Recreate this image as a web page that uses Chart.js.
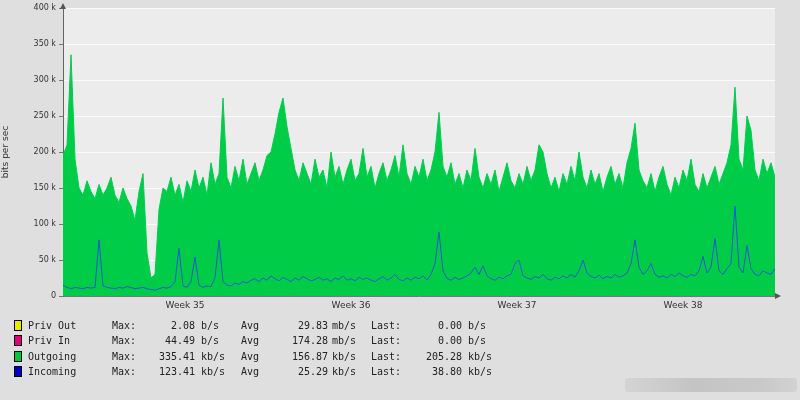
<!DOCTYPE html>
<html>
<head>
<meta charset="utf-8">
<script src="https://cdn.jsdelivr.net/npm/chart.js@4.4.0/dist/chart.umd.min.js"></script>
<style>
body { margin: 0; background: #dfdfdf; }
#caja { position: relative; width: 800px; height: 400px; background: #dfdfdf; }
#canvas_grafica { position: absolute; left: 0; top: 0; }
.fila { position: absolute; left: 0; height: 12px; font: 10px "DejaVu Sans Mono", monospace; color: #222; white-space: pre; }
.fila span { position: absolute; top: 0; }
.muestra { position: absolute; left: 14px; top: 0; width: 6px; height: 9px; border: 1px solid #000; }
.der { text-align: right; }
#marca { position: absolute; left: 625px; top: 378px; width: 172px; height: 14px;
  background: linear-gradient(90deg, #d4d4d4, #c4c4c4 40%, #c9c9c9 80%, #d2d2d2); border-radius: 3px; }
</style>
</head>
<body>
<div id="caja">
  <canvas id="canvas_grafica" width="800" height="400"></canvas>
  <div id="leyenda"></div>
  <div id="marca"></div>
</div>
<script>
// valores en kb/s, una muestra cada ~4 px del mes
let salientes = [
195, 210, 335, 190, 150, 140, 160, 145, 135, 155,
140, 150, 165, 140, 130, 150, 135, 125, 105, 145,
170, 60, 25, 30, 120, 150, 145, 165, 140, 155,
130, 160, 145, 175, 150, 165, 140, 185, 155, 170,
275, 165, 150, 180, 160, 190, 155, 170, 185, 160,
175, 195, 200, 225, 255, 275, 235, 205, 175, 160,
185, 170, 155, 190, 165, 175, 150, 200, 165, 180,
155, 175, 190, 160, 170, 205, 165, 180, 150, 170,
185, 160, 175, 195, 165, 210, 170, 155, 180, 165,
190, 160, 175, 200, 255, 180, 165, 185, 155, 170,
150, 175, 160, 205, 165, 150, 170, 155, 175, 145,
165, 185, 160, 150, 170, 155, 180, 160, 175, 210,
200, 170, 150, 165, 145, 170, 155, 180, 160, 200,
165, 150, 175, 155, 170, 145, 165, 180, 155, 170,
150, 185, 205, 240, 175, 160, 150, 170, 145, 165,
180, 155, 140, 165, 150, 175, 160, 190, 155, 145,
170, 150, 165, 180, 155, 170, 185, 210, 290, 190,
175, 250, 230, 175, 160, 190, 170, 185, 165
];
let entrantes = [
15, 12, 10, 12, 11, 10, 12, 11, 12, 78,
14, 12, 11, 10, 12, 11, 13, 12, 10, 11,
12, 10, 9, 8, 10, 12, 11, 13, 20, 66,
14, 12, 20, 54, 15, 12, 14, 13, 25, 78,
20, 15, 14, 18, 16, 20, 18, 22, 24, 20,
25, 22, 28, 24, 21, 26, 23, 20, 25, 22,
27, 24, 21, 23, 26, 22, 24, 20, 25, 23,
28, 22, 24, 21, 26, 23, 25, 22, 20, 24,
27, 22, 25, 30, 23, 21, 25, 22, 26, 24,
28, 22, 30, 45, 89, 35, 24, 22, 26, 23,
25, 28, 32, 40, 30, 42, 28, 24, 22, 26,
24, 28, 30, 45, 50, 28, 25, 23, 27, 25,
30, 24, 22, 26, 24, 28, 25, 30, 26, 35,
50, 32, 27, 25, 29, 24, 27, 25, 30, 26,
28, 32, 45, 78, 40, 30, 35, 45, 30, 26,
28, 25, 30, 27, 32, 28, 26, 30, 28, 35,
55, 32, 40, 80, 35, 30, 38, 45, 125, 40,
32, 70, 38, 30, 28, 35, 32, 30, 38
];
let semanas = ["Week 35", "Week 36", "Week 37", "Week 38"];
let posicion_semanas = [30.5, 72, 113.5, 155];
let ticks_y = [0, 50, 100, 150, 200, 250, 300, 350, 400];

let series_leyenda = [
  { nombre: "Priv Out", color: "#e8e800", max: "2.08", umax: "b/s", avg: "29.83", uavg: "mb/s", last: "0.00", ulast: "b/s" },
  { nombre: "Priv In", color: "#e0007a", max: "44.49", umax: "b/s", avg: "174.28", uavg: "mb/s", last: "0.00", ulast: "b/s" },
  { nombre: "Outgoing", color: "#00c83c", max: "335.41", umax: "kb/s", avg: "156.87", uavg: "kb/s", last: "205.28", ulast: "kb/s" },
  { nombre: "Incoming", color: "#0000c8", max: "123.41", umax: "kb/s", avg: "25.29", uavg: "kb/s", last: "38.80", ulast: "kb/s" }
];

function crearLeyenda() {
  let leyenda = document.getElementById("leyenda");
  let filas_y = [320, 335, 351, 366];
  series_leyenda.forEach((s, i) => {
    let fila = document.createElement("div");
    fila.className = "fila";
    fila.style.top = filas_y[i] + "px";
    fila.style.width = "800px";
    fila.innerHTML =
      '<div class="muestra" style="background:' + s.color + '"></div>' +
      '<span style="left:28px">' + s.nombre + '</span>' +
      '<span style="left:112px">Max:</span>' +
      '<span class="der" style="right:' + (800 - 195) + 'px">' + s.max + '</span>' +
      '<span style="left:201px">' + s.umax + '</span>' +
      '<span style="left:241px">Avg</span>' +
      '<span class="der" style="right:' + (800 - 328) + 'px">' + s.avg + '</span>' +
      '<span style="left:332px">' + s.uavg + '</span>' +
      '<span style="left:371px">Last:</span>' +
      '<span class="der" style="right:' + (800 - 462) + 'px">' + s.last + '</span>' +
      '<span style="left:468px">' + s.ulast + '</span>';
    leyenda.appendChild(fila);
  });
}

let fondo = {
  id: "fondo",
  beforeDraw(chart) {
    let ctx = chart.ctx;
    let a = chart.chartArea;
    ctx.save();
    ctx.fillStyle = "#dfdfdf";
    ctx.fillRect(0, 0, chart.width, chart.height);
    ctx.fillStyle = "#ececec";
    ctx.fillRect(a.left, a.top, a.right - a.left, a.bottom - a.top);
    ctx.restore();
  },
  afterDraw(chart) {
    let ctx = chart.ctx;
    let a = chart.chartArea;
    ctx.save();
    ctx.fillStyle = "#555";
    // flechas de los ejes
    ctx.beginPath();
    ctx.moveTo(a.left - 3, a.top + 1);
    ctx.lineTo(a.left + 3, a.top + 1);
    ctx.lineTo(a.left, a.top - 5);
    ctx.closePath();
    ctx.fill();
    ctx.beginPath();
    ctx.moveTo(a.right, a.bottom - 3);
    ctx.lineTo(a.right, a.bottom + 3);
    ctx.lineTo(a.right + 6, a.bottom);
    ctx.closePath();
    ctx.fill();
    ctx.restore();
  }
};

function crearGrafica() {
  let canvas_graf = document.getElementById("canvas_grafica");
  let indices = salientes.map((v, i) => i);
  new Chart(canvas_graf, {
    type: "line",
    data: {
      labels: indices,
      datasets: [{
        label: "Incoming",
        data: entrantes.map((v, i) => ({ x: i, y: v })),
        borderColor: "#2158d0",
        borderWidth: 1,
        fill: false,
        pointRadius: 0,
        tension: 0,
        order: 0
      }, {
        label: "Outgoing",
        data: salientes.map((v, i) => ({ x: i, y: v })),
        borderColor: "#00cf50",
        backgroundColor: "#00cc48",
        borderWidth: 1,
        fill: "origin",
        pointRadius: 0,
        tension: 0,
        order: 1
      }]
    },
    options: {
      responsive: false,
      animation: false,
      layout: { padding: { top: 8, right: 25, bottom: 80, left: 0 } },
      plugins: { legend: { display: false }, tooltip: { enabled: false } },
      scales: {
        x: {
          type: "linear",
          min: 0,
          max: salientes.length - 1,
          afterBuildTicks: (scale) => { scale.ticks = posicion_semanas.map(v => ({ value: v })); },
          afterFit: (scale) => { scale.height = 24; },
          ticks: {
            autoSkip: false,
            maxRotation: 0,
            padding: 4,
            color: "#333",
            font: { family: "DejaVu Sans", size: 9 },
            callback: (v, i) => semanas[i]
          },
          grid: { display: false, drawTicks: false, tickLength: 0 },
          border: { display: true, color: "#777", width: 1 }
        },
        y: {
          min: 0,
          max: 400,
          afterBuildTicks: (scale) => { scale.ticks = ticks_y.map(v => ({ value: v })); },
          afterFit: (scale) => { scale.width = 63; },
          ticks: {
            padding: 3,
            color: "#333",
            font: { family: "DejaVu Sans", size: 8 },
            callback: v => v === 0 ? "0" : v + " k"
          },
          grid: { color: "rgba(255,255,255,0.8)", tickColor: "#777", tickLength: 4 },
          border: { display: true, color: "#666", width: 1 },
          title: {
            display: true,
            text: "bits per sec",
            color: "#333",
            padding: { top: 0, bottom: 0 },
            font: { family: "DejaVu Sans", size: 9 }
          }
        }
      }
    },
    plugins: [fondo]
  });
}

crearGrafica();
crearLeyenda();
</script>
</body>
</html>
